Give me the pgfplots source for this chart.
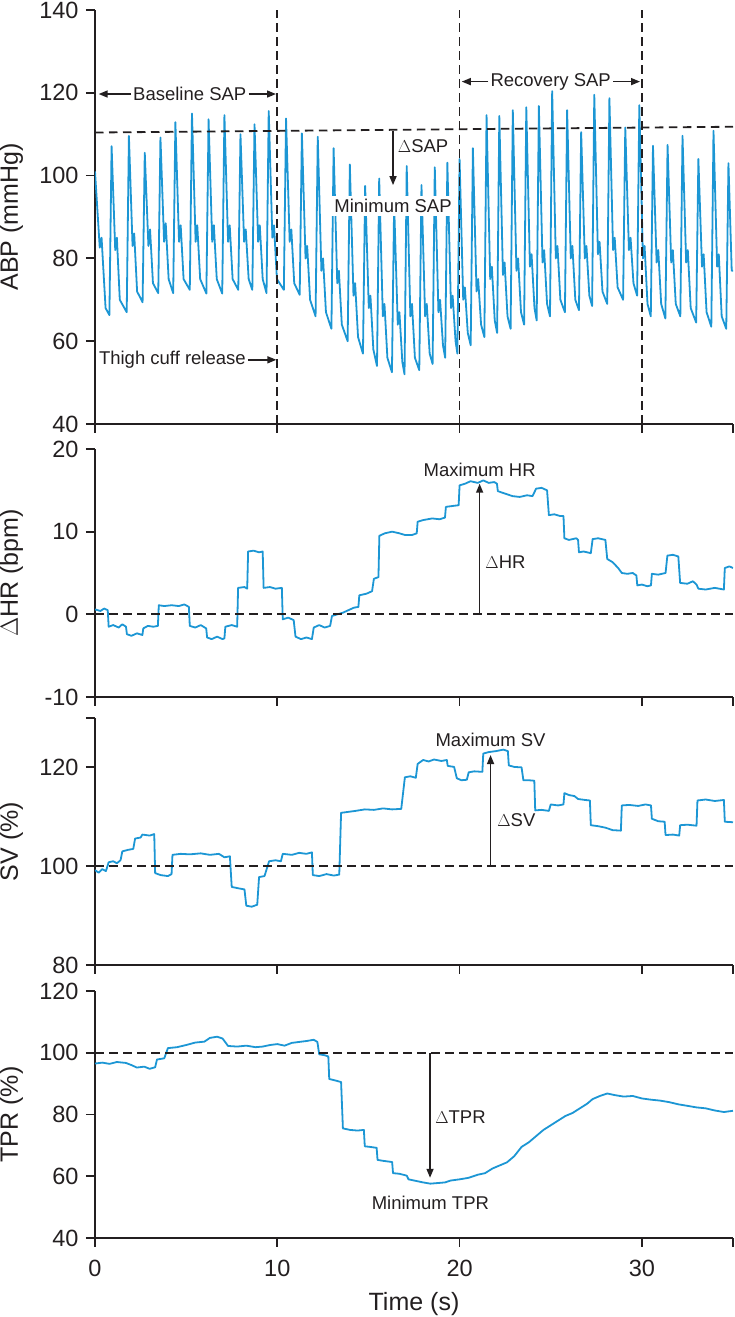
\documentclass[border=0pt]{standalone}
\usepackage{fontspec}
\setmainfont{Liberation Sans}
\usepackage{pgfplots}
\pgfplotsset{compat=1.18}
\usetikzlibrary{arrows.meta}
\definecolor{trace}{RGB}{28,150,212}
\definecolor{axcol}{RGB}{35,31,32}

\tikzset{
  annot/.style={font=\fontsize{18.5}{22}\selectfont, text=axcol, inner sep=2pt},
  arr/.style={-{Triangle[length=9pt,width=7pt]}, line width=1.5pt, axcol},
}
\pgfplotsset{
  panel/.style={
    scale only axis, width=638pt, xmin=0, xmax=35,
    anchor=south west,
    axis x line*=bottom, axis y line*=left,
    axis line style={line width=1.8pt, axcol},
    every tick/.style={line width=1.8pt, axcol},
    major tick length=9pt,
    tick align=outside,
    xtick={0,10,20,30,35},
    xticklabels={},
    ticklabel style={font=\fontsize{23.5}{27}\selectfont, text=axcol},
    xticklabel style={yshift=-10pt},
    yticklabel style={xshift=-4pt},
    /pgf/number format/assume math mode=true,
    every axis y label/.style={at={(axis description cs:0,0.5)}, rotate=90, anchor=base, yshift=77pt, font=\fontsize{25}{29}\selectfont, text=axcol},
    every axis x label/.style={at={(axis description cs:0.5,0)}, anchor=base, yshift=-72.5pt, font=\fontsize{25}{29}\selectfont, text=axcol},
  },
  trc/.style={color=trace, line width=1.8pt, line join=round, no marks},
  dsh/.style={axcol, line width=1.8pt, dash pattern=on 8.5pt off 5.5pt, no marks},
}

\begin{document}
\begin{tikzpicture}
\useasboundingbox (0pt,0pt) rectangle (734pt,1317pt);

% ---------------- Panel 1: ABP ----------------
\begin{axis}[panel, at={(95pt,893pt)}, height=414pt,
  ymin=40, ymax=140, ytick={40,60,80,100,120,140},
  ylabel={ABP (mmHg)}]
\addplot[trc] coordinates {
(0,101) (0.26,82.6) (0.36,85) (0.58,68) (0.79,66.3)
(0.91,107.1) (1.11,82) (1.20,85) (1.36,70) (1.74,67)
(1.86,109.6) (2.06,83) (2.15,86) (2.31,72) (2.61,69.4)
(2.73,105.5) (2.93,83) (3.02,87) (3.18,74) (3.47,71.6)
(3.59,109.2) (3.79,84) (3.88,88.5) (4.04,75) (4.29,71.6)
(4.41,112.9) (4.61,84) (4.70,88) (4.86,75) (5.20,72.4)
(5.32,115.0) (5.52,84) (5.61,88) (5.77,75) (6.11,71.5)
(6.23,113.6) (6.43,84) (6.52,88) (6.68,75) (6.98,71.5)
(7.10,114.6) (7.30,84) (7.39,88) (7.55,75) (7.86,72.4)
(7.98,110.0) (8.18,84) (8.27,87) (8.43,75) (8.63,72.4)
(8.75,112.4) (8.95,84) (9.04,88) (9.20,75) (9.41,71.6)
(9.53,115.6) (9.73,85) (9.82,88) (9.98,75) (10.36,72.4)
(10.48,113.8) (10.68,84) (10.77,87) (10.93,74) (11.23,71.2)
(11.35,110.2) (11.55,80) (11.64,83) (11.80,70) (12.10,66)
(12.22,109.4) (12.42,77) (12.51,80) (12.67,67) (12.97,63)
(13.09,106.6) (13.29,74) (13.38,77) (13.54,64) (13.86,60)
(13.98,102.7) (14.18,71) (14.27,74) (14.43,61) (14.70,57)
(14.82,97.5) (15.02,68) (15.11,71) (15.27,58) (15.47,54)
(15.59,99.3) (15.79,66) (15.88,69) (16.04,56) (16.29,52.5)
(16.41,93.0) (16.61,64) (16.70,67) (16.86,55) (16.98,52)
(17.10,102.3) (17.30,66) (17.39,69) (17.55,56) (17.79,53)
(17.91,97.7) (18.11,66) (18.20,69) (18.36,57) (18.52,54.5)
(18.64,102.0) (18.84,67) (18.93,70) (19.09,59) (19.21,56)
(19.33,103.1) (19.53,68) (19.62,71) (19.78,60) (19.88,57)
(20.00,104.0) (20.20,70) (20.29,73) (20.45,62) (20.61,59)
(20.73,106.6) (20.93,72) (21.02,75) (21.18,64) (21.36,61)
(21.48,114.6) (21.68,75) (21.77,78) (21.93,65) (22.06,62)
(22.18,114.4) (22.38,76) (22.47,79) (22.63,66) (22.80,63)
(22.92,115.8) (23.12,77) (23.21,80) (23.37,67) (23.54,64)
(23.66,116.5) (23.86,78) (23.95,81) (24.11,68) (24.23,65)
(24.35,116.8) (24.55,79) (24.64,82) (24.80,69) (24.96,66)
(25.08,120.4) (25.28,80) (25.37,83) (25.53,70) (25.78,67)
(25.90,115.8) (26.10,80) (26.19,83) (26.35,70) (26.55,67.5)
(26.67,110.5) (26.87,80) (26.96,83) (27.12,71) (27.27,68.5)
(27.39,119.5) (27.59,81) (27.68,84) (27.84,72) (28.10,69)
(28.22,118.7) (28.42,82) (28.51,85) (28.67,73) (28.97,70)
(29.09,111.6) (29.29,82) (29.38,85) (29.54,74) (29.74,71)
(29.86,117.0) (30.06,80) (30.15,83) (30.31,69) (30.49,66)
(30.61,107.2) (30.81,79) (30.90,82) (31.06,69) (31.29,65.5)
(31.41,107.4) (31.61,79) (31.70,82) (31.86,69) (32.11,66)
(32.23,109.6) (32.43,79) (32.52,82) (32.68,68) (32.98,64.5)
(33.10,104.0) (33.30,78) (33.39,81) (33.55,67) (33.81,63.5)
(33.93,110.8) (34.13,78) (34.22,81) (34.38,66) (34.63,63)
(34.75,103.0) (34.93,77) (35.0,77)
};
\addplot[dsh] coordinates {(0,110.4) (35,111.8)};
\addplot[dsh] coordinates {(10,40) (10,140)};
\addplot[dsh] coordinates {(20,40) (20,140)};
\addplot[dsh] coordinates {(30,40) (30,140)};
\node[annot] (bs) at (axis cs:5.2,119.7) {Baseline SAP};
\draw[arr] (bs.west) -- (axis cs:0.2,119.7);
\draw[arr] (bs.east) -- (axis cs:9.93,119.7);
\node[annot] (rs) at (axis cs:25.0,122.7) {Recovery SAP};
\draw[arr] (rs.west) -- (axis cs:20.12,122.7);
\draw[arr] (rs.east) -- (axis cs:29.9,122.7);
\node[annot, anchor=west] (tc) at (axis cs:0.1,55.5) {Thigh cuff release};
\draw[arr] (tc.east) -- (axis cs:9.95,55.5);
\draw[arr] (axis cs:16.35,110.8) -- (axis cs:16.35,97.7);
\node[annot, anchor=west] at (axis cs:16.5,107.0) {$\Delta$SAP};
\node[annot, fill=white, inner sep=3pt] at (axis cs:16.35,92.7) {Minimum SAP};
\end{axis}

% ---------------- Panel 2: dHR ----------------
\begin{axis}[panel, at={(95pt,620pt)}, height=248pt,
  ymin=-10, ymax=20, ytick={-10,0,10,20},
  ylabel={$\Delta$HR (bpm)}]
\addplot[trc] coordinates {
(0,0.6) (0.3,0.4) (0.5,0.7) (0.7,0.5) (0.75,-1.5) (1.0,-1.3) (1.3,-1.6) (1.5,-1.2) (1.7,-1.5)
(1.75,-2.4) (2.0,-2.6) (2.3,-2.3) (2.6,-2.5) (2.65,-1.7) (2.9,-1.4) (3.2,-1.5) (3.45,-1.4)
(3.5,1.1) (3.8,1.0) (4.2,1.1) (4.6,1.0) (4.9,1.2) (5.15,0.9) (5.2,-1.4) (5.5,-1.6) (5.8,-1.3) (6.1,-1.7)
(6.15,-2.8) (6.4,-3.0) (6.7,-2.7) (7.0,-3.0) (7.1,-2.9) (7.15,-1.5) (7.5,-1.3) (7.8,-1.5)
(7.85,3.2) (8.2,3.3) (8.35,3.1) (8.4,7.6) (8.7,7.7) (9.0,7.5) (9.2,7.6) (9.25,3.2) (9.6,3.3) (9.9,3.1) (10.25,3.2)
(10.3,-0.6) (10.6,-0.4) (10.9,-0.7) (11.0,-2.7) (11.3,-3.0) (11.6,-2.8) (11.9,-3.0)
(12.0,-1.6) (12.3,-1.3) (12.6,-1.6) (12.9,-1.4) (13.0,-0.2) (13.3,0.0) (13.6,0.2) (13.9,0.5) (14.2,0.8) (14.45,0.9)
(14.5,2.3) (14.9,2.5) (15.2,2.8) (15.3,4.3) (15.55,4.5) (15.6,9.5) (15.9,9.8) (16.3,10.0) (16.7,9.8) (17.0,9.6) (17.4,9.6) (17.65,9.8)
(17.7,11.2) (18.0,11.4) (18.5,11.6) (18.9,11.5) (19.2,11.7) (19.25,13.0) (19.6,13.1) (19.95,13.2)
(20.0,15.6) (20.3,15.8) (20.6,16.1) (21.0,15.9) (21.3,16.2) (21.6,15.9) (21.9,16.0) (22.05,15.8)
(22.1,14.9) (22.5,14.6) (22.9,14.3) (23.3,14.2) (23.7,14.4) (24.0,14.3) (24.2,15.2) (24.5,15.3) (24.8,15.0)
(24.9,12.0) (25.2,12.1) (25.5,11.9) (25.7,11.9) (25.75,9.2) (26.0,9.0) (26.4,9.2) (26.5,9.0)
(26.55,7.5) (26.8,7.6) (27.2,7.4) (27.3,9.1) (27.6,9.2) (28.0,9.0) (28.1,6.7) (28.4,6.3) (28.7,5.6) (28.9,5.0)
(29.2,4.9) (29.5,5.0) (29.7,4.7) (29.75,3.5) (30.0,3.6) (30.3,3.4) (30.5,3.5) (30.55,4.9) (30.9,4.8) (31.3,5.0)
(31.4,7.1) (31.7,7.2) (32.0,7.0) (32.1,3.8) (32.5,3.7) (32.8,4.0) (33.0,3.6) (33.1,3.1) (33.5,3.0) (34.0,3.2) (34.5,3.0)
(34.55,5.6) (34.8,5.8) (35.0,5.6)
};
\addplot[dsh] coordinates {(0,0) (35,0)};
\draw[arr] (axis cs:21.1,0) -- (axis cs:21.1,15.8);
\node[annot] at (axis cs:21.1,17.5) {Maximum HR};
\node[annot, anchor=west] at (axis cs:21.3,6.3) {$\Delta$HR};
\end{axis}

% ---------------- Panel 3: SV ----------------
\begin{axis}[panel, at={(95pt,352pt)}, height=247pt,
  ymin=80, ymax=130, ytick={80,100,120,130}, yticklabels={80,100,120,{}},
  ylabel={SV (\%)}]
\addplot[trc] coordinates {
(0,99.2) (0.2,98.7) (0.4,99.4) (0.6,99.0) (0.75,100.8) (1.0,101.0) (1.2,100.6) (1.4,101.2)
(1.5,103.0) (1.8,103.3) (2.1,103.5) (2.2,105.6) (2.5,105.8) (2.6,106.4) (3.0,106.2) (3.25,106.5)
(3.3,98.6) (3.6,98.2) (4.0,98.0) (4.2,98.4) (4.25,102.3) (4.7,102.5) (5.2,102.4) (5.8,102.6) (6.3,102.3) (6.8,102.5)
(7.1,101.8) (7.4,102.0) (7.5,95.8) (7.9,95.5) (8.2,95.3) (8.3,92.0) (8.6,91.8) (8.9,92.2)
(9.0,97.8) (9.3,98.0) (9.55,101.0) (9.9,101.2) (10.2,101.0) (10.3,102.5) (10.8,102.3) (11.2,102.7) (11.6,102.5) (11.9,102.8)
(11.95,98.2) (12.3,98.0) (12.7,98.4) (13.1,98.1) (13.4,98.3)
(13.5,110.8) (13.9,111.0) (14.3,111.2) (14.8,111.5) (15.3,111.4) (15.8,111.7) (16.3,111.5) (16.8,111.6)
(17.0,118.0) (17.3,118.2) (17.6,117.9) (17.7,120.7) (18.0,121.5) (18.3,121.2) (18.6,121.6) (19.0,121.3) (19.3,121.5)
(19.35,120.3) (19.7,120.1) (19.85,117.8) (20.1,117.4) (20.4,117.5) (20.5,119.0) (20.8,119.2) (21.25,119.1)
(21.3,122.8) (21.6,123.1) (22.0,123.3) (22.4,123.6) (22.65,123.3) (22.7,120.4) (23.0,120.1) (23.4,120.0)
(23.5,117.4) (23.8,117.4) (24.1,117.3) (24.15,111.3) (24.5,111.4) (24.9,111.2) (25.0,112.5) (25.4,112.3) (25.7,112.5)
(25.75,114.8) (26.0,114.4) (26.3,114.2) (26.5,113.6) (26.9,113.4) (27.15,113.3)
(27.2,108.3) (27.6,108.1) (28.0,107.8) (28.4,107.3) (28.85,107.2)
(28.9,112.3) (29.3,112.4) (29.8,112.2) (30.2,112.5) (30.5,112.3)
(30.55,109.6) (30.9,109.1) (31.25,109.0) (31.3,106.3) (31.7,106.4) (32.05,106.2)
(32.1,108.3) (32.5,108.4) (33.0,108.2) (33.05,113.3) (33.5,113.5) (34.0,113.2) (34.5,113.4)
(34.55,109.0) (35.0,108.9)
};
\addplot[dsh] coordinates {(0,100) (35,100)};
\draw[arr] (axis cs:21.7,100) -- (axis cs:21.7,122.5);
\node[annot] at (axis cs:21.7,125.6) {Maximum SV};
\node[annot, anchor=west] at (axis cs:21.95,109.3) {$\Delta$SV};
\end{axis}

% ---------------- Panel 4: TPR ----------------
\begin{axis}[panel, at={(95pt,79pt)}, height=247pt,
  ymin=40, ymax=120, ytick={40,60,80,100,120},
  xticklabels={0,10,20,30,{}},
  ylabel={TPR (\%)}, xlabel={Time (s)}]
\addplot[trc] coordinates {
(0,96.5) (0.4,96.8) (0.8,96.4) (1.2,97.0) (1.7,96.7) (2.0,96.0) (2.3,95.2) (2.7,95.5) (3.0,94.8) (3.3,95.3)
(3.4,97.8) (3.8,98.2) (4.0,101.5) (4.5,101.8) (5.0,102.5) (5.5,103.3) (6.0,103.6) (6.3,104.8) (6.7,105.2) (7.0,104.6)
(7.3,102.2) (7.8,102.0) (8.3,102.3) (8.8,101.8) (9.2,102.0) (9.6,102.5) (10.0,102.8) (10.4,102.3) (10.8,103.2)
(11.2,103.5) (11.6,103.8) (12.0,104.2) (12.2,103.5) (12.3,99.5) (12.6,99.2) (12.8,98.8) (12.85,91.5) (13.2,91.0) (13.5,90.5)
(13.6,75.5) (14.0,75.0) (14.4,74.8) (14.75,75.0) (14.8,69.7) (15.1,69.5) (15.45,69.2) (15.5,65.3) (15.8,65.0) (16.3,64.6)
(16.35,61.0) (16.7,60.8) (17.1,60.2) (17.2,59.0) (17.6,58.5) (18.0,58.0) (18.4,57.6) (18.8,57.8) (19.2,58.0) (19.5,58.6)
(20.0,59.0) (20.5,59.5) (21.0,60.5) (21.4,61.0) (21.8,62.5) (22.2,63.5) (22.6,64.5) (23.0,66.5) (23.4,69.5) (23.8,71.0)
(24.2,73.0) (24.6,75.0) (25.0,76.5) (25.4,78.0) (25.8,79.5) (26.2,80.5) (26.6,82.0) (27.0,83.5) (27.3,85.0) (27.7,86.0)
(28.1,86.8) (28.5,86.3) (29.0,85.8) (29.5,86.0) (30.0,85.2) (30.5,84.8) (31.0,84.5) (31.5,84.0) (32.0,83.3) (32.5,82.8)
(33.0,82.3) (33.5,82.0) (34.0,81.3) (34.5,80.8) (35.0,81.2)
};
\addplot[dsh] coordinates {(0,100) (35,100)};
\draw[arr] (axis cs:18.38,100) -- (axis cs:18.38,59.5);
\node[annot] at (axis cs:18.4,51.4) {Minimum TPR};
\node[annot, anchor=west] at (axis cs:18.55,79.2) {$\Delta$TPR};
\end{axis}
\end{tikzpicture}
\end{document}
